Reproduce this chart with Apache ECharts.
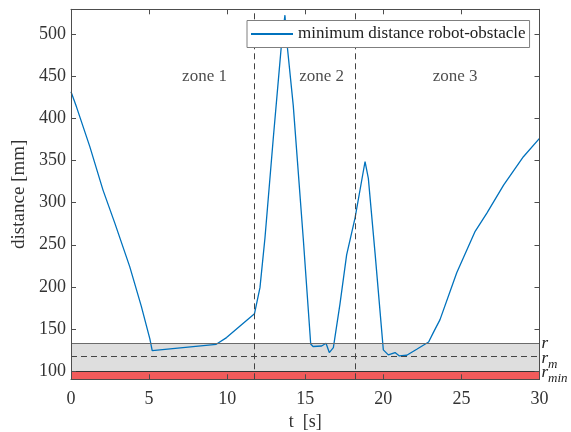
<!DOCTYPE html>
<html>
<head>
<meta charset="utf-8">
<script src="https://cdn.jsdelivr.net/npm/echarts@6/dist/echarts.min.js"></script>
<style>
  html, body { margin: 0; padding: 0; background: #fff; }
  #chart { width: 571px; height: 432px; }
</style>
</head>
<body>
<div id="chart"></div>
<script>
// Time samples [s] and minimum robot-obstacle distance [mm]
const timeS = [0, 0.35, 1.2, 2.05, 2.8, 3.76, 4.5, 5.05, 5.2, 9.3, 9.96, 10.9, 11.75,
  12.1, 12.42, 12.95, 13.49, 13.7, 13.8, 14.23, 14.87, 15.35, 15.5, 16.05, 16.33, 16.54,
  16.8, 17.22, 17.65, 18.19, 18.83, 19.04, 19.47, 20.0, 20.32, 20.75, 21.03, 21.5, 22.14,
  22.9, 23.2, 23.63, 24.7, 25.88, 26.63, 27.7, 28.97, 30];
const distanceMm = [432, 414, 367, 315, 276, 224, 177, 138, 124, 131.6, 139.6, 154.5, 168,
  199, 258, 376, 491, 523, 495, 416, 258, 132, 129, 129.6, 132.8, 121.8,
  127.7, 179, 238, 282, 349, 329, 240, 125, 119, 121.8, 117.8, 118.6, 125.7,
  134.4, 145.5, 161, 216.6, 266, 287.7, 321, 354.7, 376.5];

// Safety thresholds [mm]
const rMin = 100;
const rM = 117;
const rSafe = 133;

// Zone boundaries [s] and zone names
const zoneBounds = [11.75, 18.2];
const zoneNames = ['zone 1', 'zone 2', 'zone 3'];
const zoneLabelT = [8.55, 16.05, 24.6];
const zoneLabelD = 450;

// Tick values
const xTicks = [0, 5, 10, 15, 20, 25, 30];
const yTicks = [100, 150, 200, 250, 300, 350, 400, 450, 500];

const seriesName = 'minimum distance robot-obstacle';

const FONT = 'Liberation Serif';
const AXIS_COLOR = '#4d4d4d';

const chart = echarts.init(document.getElementById('chart'), null, { renderer: 'canvas' });

const xAxisBase = {
  type: 'value', min: 0, max: 30, interval: 5, z: 10,
  axisLine: { show: true, onZero: false, lineStyle: { color: AXIS_COLOR, width: 1 } },
  axisTick: { show: true, inside: true, length: 5, lineStyle: { color: AXIS_COLOR } },
  splitLine: { show: false }
};
const yAxisBase = {
  type: 'value', min: 90, max: 530, z: 10,
  axisLine: { show: true, onZero: false, lineStyle: { color: AXIS_COLOR, width: 1 } },
  axisTick: { show: true, inside: true, length: 5, customValues: yTicks, lineStyle: { color: AXIS_COLOR } },
  splitLine: { show: false }
};

// threshold label: italic r with a lowered subscript
const rLabel = (txt, dy) => ({
  show: true, position: 'end', distance: 2, offset: [0, dy],
  formatter: txt,
  rich: {
    i: { fontFamily: FONT, fontStyle: 'italic', fontSize: 17, color: '#222', padding: [0, 0, 4, 0], verticalAlign: 'bottom' },
    s: { fontFamily: FONT, fontStyle: 'italic', fontSize: 13, color: '#222', verticalAlign: 'bottom' }
  }
});

const option = {
  animation: false,
  backgroundColor: '#fff',
  grid: { left: 71, right: 31.5, top: 9.3, bottom: 52.7, outerBoundsMode: 'none', containLabel: false },
  legend: {
    left: 247, top: 20.5, z: 20,
    padding: [5, 4, 5, 4],
    itemWidth: 42, itemHeight: 2, itemGap: 4,
    borderColor: '#7f7f7f', borderWidth: 1, backgroundColor: '#fff',
    textStyle: { fontFamily: FONT, fontSize: 17, color: '#222' },
    data: [{ name: seriesName, icon: 'rect' }]
  },
  xAxis: [
    Object.assign({}, xAxisBase, {
      position: 'bottom',
      name: 't  [s]', nameLocation: 'middle', nameGap: 28,
      nameTextStyle: { fontFamily: FONT, fontSize: 18, color: '#333' },
      axisLabel: { margin: 11, fontFamily: FONT, fontSize: 18, color: '#333', customValues: xTicks }
    }),
    Object.assign({}, xAxisBase, {
      position: 'top', axisLabel: { show: false }
    })
  ],
  yAxis: [
    Object.assign({}, yAxisBase, {
      position: 'left',
      name: 'distance [mm]', nameLocation: 'middle', nameGap: 42,
      nameTextStyle: { fontFamily: FONT, fontSize: 19, color: '#333' },
      axisLabel: { margin: 5, fontFamily: FONT, fontSize: 18, color: '#333', customValues: yTicks }
    }),
    Object.assign({}, yAxisBase, {
      position: 'right', axisLabel: { show: false }
    })
  ],
  series: [
    {
      // safety bands
      type: 'line', name: 'bands', data: [], z: 1, silent: true,
      markArea: {
        silent: true,
        data: [
          [{ yAxis: 90, itemStyle: { color: '#f15b5b' } }, { yAxis: rMin }],
          [{ yAxis: rMin, itemStyle: { color: '#dedede' } }, { yAxis: rSafe }]
        ]
      }
    },
    {
      // thresholds and zone separators
      type: 'line', name: 'limits', data: [], z: 2, silent: true,
      markLine: {
        silent: true, symbol: 'none',
        data: [
          { yAxis: rSafe, lineStyle: { color: '#6b6b6b', type: 'solid', width: 1 },
            label: { show: true, position: 'end', distance: 2, formatter: 'r',
              fontFamily: FONT, fontStyle: 'italic', fontSize: 17, color: '#222' } },
          { yAxis: rM, lineStyle: { color: '#444', type: [6, 4], width: 1 }, label: rLabel('{i|r}{s|m}', 4) },
          { yAxis: rMin, lineStyle: { color: '#333', type: 'solid', width: 1 }, label: rLabel('{i|r}{s|min}', 4) },
          { xAxis: zoneBounds[0], lineStyle: { color: '#444', type: [6, 4], width: 1 }, label: { show: false } },
          { xAxis: zoneBounds[1], lineStyle: { color: '#444', type: [6, 4], width: 1 }, label: { show: false } }
        ]
      }
    },
    {
      type: 'line', name: seriesName, z: 3,
      data: timeS.map((t, i) => [t, distanceMm[i]]),
      symbol: 'none', showSymbol: false,
      lineStyle: { color: '#0072bd', width: 1.3 },
      itemStyle: { color: '#0072bd' }
    },
    {
      // zone captions
      type: 'scatter', name: 'zones', z: 3, silent: true,
      symbolSize: 0,
      data: zoneNames.map((n, i) => ({ name: n, value: [zoneLabelT[i], zoneLabelD] })),
      label: {
        show: true, position: 'inside', formatter: '{b}',
        fontFamily: FONT, fontSize: 17, color: '#222'
      }
    }
  ]
};

chart.setOption(option);
</script>
</body>
</html>
